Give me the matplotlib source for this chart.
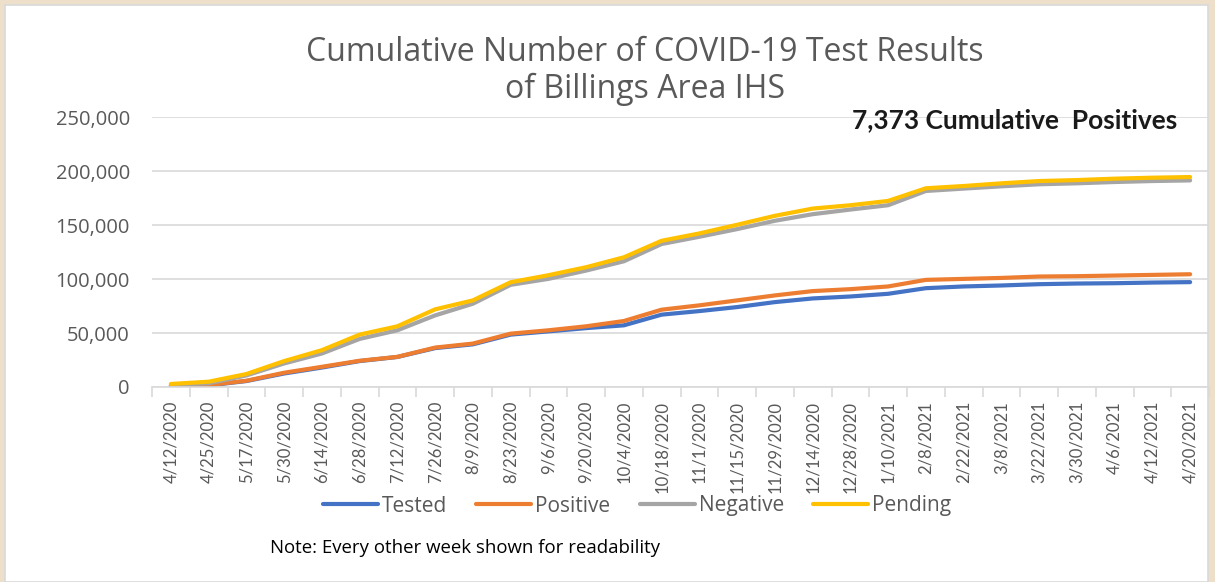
import matplotlib.pyplot as plt
from matplotlib.patches import Rectangle
from matplotlib.ticker import FuncFormatter

# week labels (every other week)
dates = ['4/12/2020', '4/25/2020', '5/17/2020', '5/30/2020', '6/14/2020', '6/28/2020',
         '7/12/2020', '7/26/2020', '8/9/2020', '8/23/2020', '9/6/2020', '9/20/2020',
         '10/4/2020', '10/18/2020', '11/1/2020', '11/15/2020', '11/29/2020', '12/14/2020',
         '12/28/2020', '1/10/2021', '2/8/2021', '2/22/2021', '3/8/2021', '3/22/2021',
         '3/30/2021', '4/6/2021', '4/12/2021', '4/20/2021']

# cumulative counts
tested = [800, 1500, 5500, 12500, 18000, 24000, 27800, 36000, 39500, 48500, 51500, 54500,
          57100, 67000, 70300, 74000, 78600, 82000, 83800, 86300, 91500, 93100, 94000,
          95200, 95800, 96100, 96700, 97100]
positive = [1200, 1800, 5800, 13200, 18700, 24300, 27900, 36500, 40200, 49400, 52500, 56200,
            61100, 71600, 75600, 80200, 84800, 88800, 90600, 93100, 99200, 100100, 101000,
            102300, 102600, 103200, 103800, 104400]
negative = [1800, 3400, 10700, 21800, 31000, 44500, 52500, 66300, 77100, 94600, 100100, 107800,
            116400, 132400, 139100, 146200, 153900, 160000, 164300, 168300, 181500, 183700,
            185800, 187700, 188600, 189800, 190700, 191300]
pending = [2800, 4900, 12000, 24000, 34100, 48500, 56200, 71900, 80200, 97000, 103500, 110900,
           120100, 135400, 142200, 150200, 158500, 165200, 168300, 172300, 184000, 186100,
           188600, 190700, 191600, 192900, 193800, 194400]

series = [('Tested', tested, '#4472C4'),
          ('Positive', positive, '#ED7D31'),
          ('Negative', negative, '#A5A5A5'),
          ('Pending', pending, '#FFC000')]

W, H = 1215, 582
fig = plt.figure(figsize=(W / 100, H / 100), dpi=100)
fig.patch.set_facecolor('#EEDFCB')

# white panel with thin grey border
fig.patches.append(Rectangle((5 / W, 0), 1203 / W, 1 - 5 / H, transform=fig.transFigure,
                             facecolor='white', edgecolor='#D9D9D9', lw=1.2, zorder=-10))

ax = fig.add_axes([152 / W, 1 - 387 / H, 1057 / W, 270 / H])
ax.set_facecolor('none')

x = list(range(len(dates)))
for name, vals, col in series:
    ax.plot(x, vals, color=col, lw=3.0, label=name, solid_capstyle='round')

ax.set_xlim(-0.5, len(dates) - 0.5)
ax.set_ylim(0, 250000)
ax.set_yticks(range(0, 250001, 50000))
ax.yaxis.set_major_formatter(FuncFormatter(lambda v, p: f'{int(v):,}'))
ax.grid(axis='y', color='#D9D9D9', lw=1.2)
ax.set_axisbelow(True)

for s in ['top', 'right', 'left']:
    ax.spines[s].set_visible(False)
ax.spines['bottom'].set_color('#D9D9D9')
ax.spines['bottom'].set_linewidth(1.2)

ax.set_xticks(x)
ax.set_xticklabels(dates, rotation=90, fontsize=12, color='#595959', family='Lato')
ax.set_xticks([i - 0.5 for i in range(len(dates) + 1)], minor=True)
ax.tick_params(axis='x', which='major', length=0, pad=10)
ax.tick_params(axis='x', which='minor', length=7, color='#D9D9D9', width=1.2)
ax.tick_params(axis='y', length=0, pad=16, labelsize=14.5, labelcolor='#595959')
for lab in ax.get_yticklabels():
    lab.set_family('Open Sans')

fig.text(645 / W, 1 - 71 / H, 'Cumulative Number of COVID-19 Test Results\nof Billings Area IHS',
         ha='center', va='center', fontsize=23, color='#595959', family='Open Sans',
         linespacing=1.15)

fig.text(1177 / W, 1 - 120 / H, '7,373 Cumulative  Positives', ha='right', va='center',
         fontsize=19, fontweight='bold', color='#1A1A1A', family='Lato')

leg = fig.legend(loc='center', bbox_to_anchor=(637 / W, 1 - 506 / H), ncol=4, frameon=False,
                 handlelength=2.64, columnspacing=1.4, handletextpad=0.2,
                 prop={'family': 'Open Sans', 'size': 15})
for t in leg.get_texts():
    t.set_color('#595959')

fig.text(270 / W, 1 - 548 / H, 'Note: Every other week shown for readability', ha='left',
         va='center', fontsize=13.4, color='black', family='Open Sans')

fig.savefig('out.png', dpi=100, facecolor=fig.get_facecolor())
